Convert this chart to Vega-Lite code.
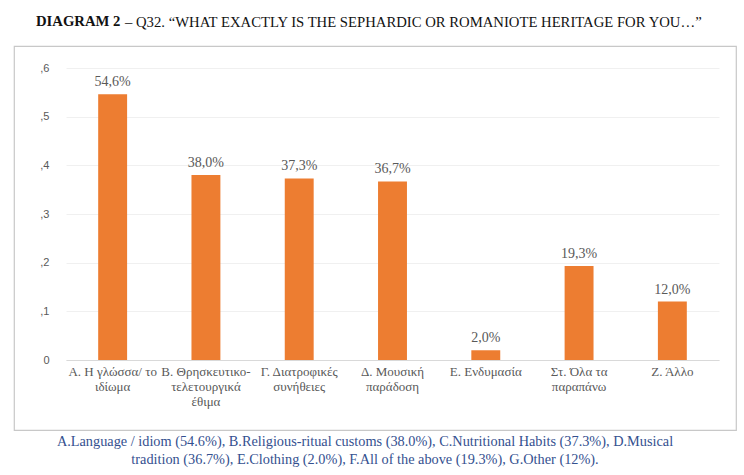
{
  "$schema": "https://vega.github.io/schema/vega-lite/v6.json",
  "padding": {"left": 13, "top": 13, "right": 6, "bottom": 2},
  "background": "white",
  "config": {
    "locale": {"number": {"decimal": ",", "thousands": ".", "grouping": [3], "currency": ["", " €"]}},
    "view": {"stroke": "#c8c8c8", "strokeWidth": 1.2},
    "font": "Liberation Serif"
  },
  "title": {
    "text": ["A.Language  / idiom (54.6%), B.Religious-ritual customs (38.0%), C.Nutritional Habits (37.3%), D.Musical", "tradition (36.7%), E.Clothing (2.0%), F.All of the above (19.3%), G.Other (12%)."],
    "orient": "bottom",
    "anchor": "middle",
    "font": "Liberation Serif",
    "fontSize": 14.3,
    "fontWeight": "normal",
    "color": "#34508f",
    "lineHeight": 18,
    "offset": 4,
    "dx": -10
  },
  "vconcat": [
    {
      "title": {
        "text": "– Q32. “WHAT EXACTLY IS THE SEPHARDIC OR ROMANIOTE HERITAGE FOR YOU…”",
        "orient": "top",
        "anchor": "start",
        "frame": "group",
        "font": "Liberation Serif",
        "fontSize": 14.7,
        "fontWeight": "normal",
        "color": "#111111",
        "dx": 111,
        "offset": -15.5
      },
      "vconcat": [
        {
          "title": {
            "text": "DIAGRAM 2",
            "orient": "top",
            "anchor": "start",
            "frame": "group",
            "font": "Liberation Serif",
            "fontSize": 14.7,
            "fontWeight": "bold",
            "color": "#111111",
            "dx": 22,
            "offset": 17
          },
          "width": 722,
          "height": 384,
          "data": {
            "values": [
              {"category": "Α. Η γλώσσα/ το|ιδίωμα", "share": 0.546},
              {"category": "Β. Θρησκευτικο-|τελετουργικά|έθιμα", "share": 0.38},
              {"category": "Γ. Διατροφικές|συνήθειες", "share": 0.373},
              {"category": "Δ. Μουσική|παράδοση", "share": 0.367},
              {"category": "Ε. Ενδυμασία", "share": 0.02},
              {"category": "Στ. Όλα τα|παραπάνω", "share": 0.193},
              {"category": "Ζ. Άλλο", "share": 0.12}
            ]
          },
          "encoding": {
            "x": {
              "field": "category",
              "type": "nominal",
              "sort": null,
              "scale": {"range": [52, 705], "paddingInner": 0.69, "paddingOuter": 0.345},
              "axis": {
                "title": null,
                "orient": "bottom",
                "offset": -70,
                "labelAngle": 0,
                "labelExpr": "split(datum.label, '|')",
                "labelFont": "Liberation Serif",
                "labelFontSize": 13,
                "labelColor": "#595959",
                "labelLineHeight": 15,
                "labelPadding": 5,
                "ticks": false,
                "domainColor": "#d9d9d9",
                "domainWidth": 1,
                "labelLimit": 200
              }
            },
            "y": {
              "field": "share",
              "type": "quantitative",
              "scale": {"domain": [0, 0.6], "range": [314, 22], "nice": false},
              "axis": {
                "title": null,
                "offset": -49,
                "values": [0, 0.1, 0.2, 0.3, 0.4, 0.5, 0.6],
                "format": ".1f",
                "labelExpr": "datum.value == 0 ? '0' : replace(datum.label, '0,', ',')",
                "labelFont": "Liberation Sans",
                "labelFontSize": 11,
                "labelColor": "#595959",
                "labelPadding": 14,
                "domain": false,
                "ticks": false,
                "gridColor": "#f0f0f0",
                "gridWidth": 1
              }
            }
          },
          "layer": [
            {"mark": {"type": "bar", "color": "#ed7d31"}},
            {
              "mark": {"type": "text", "baseline": "bottom", "dy": -5, "font": "Liberation Serif", "fontSize": 14, "color": "#595959"},
              "encoding": {"text": {"field": "share", "type": "quantitative", "format": ".1%"}}
            }
          ]
        }
      ]
    }
  ]
}
